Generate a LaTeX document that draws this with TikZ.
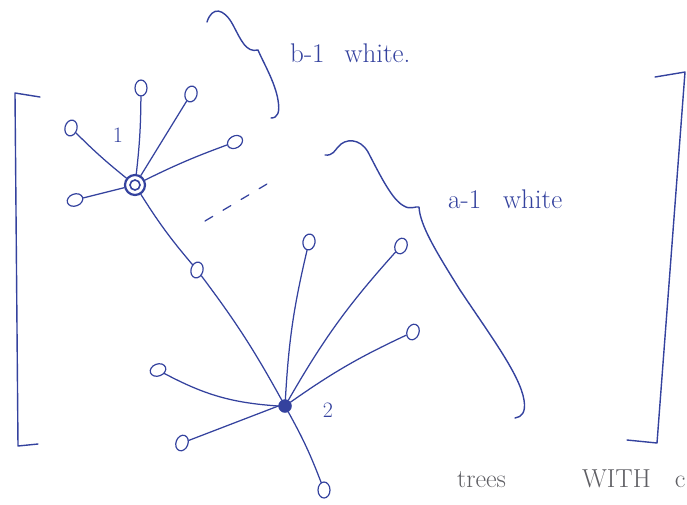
\documentclass[tikz,border=0pt]{standalone}
\usetikzlibrary{shapes.geometric}
\definecolor{ink}{RGB}{52,66,158}
\definecolor{pencil}{RGB}{95,95,100}
\begin{document}
\begin{tikzpicture}[x=1pt,y=-1pt,
  edge/.style={draw=ink, line width=1.25pt, line cap=round},
  stroke/.style={draw=ink, line width=1.4pt, line cap=round, line join=round},
  leaf/.style={ellipse, draw=ink, line width=1.2pt, minimum width=12pt, minimum height=16pt, inner sep=0pt},
  rootA/.style={circle, draw=ink, line width=2.2pt, minimum size=20pt, inner sep=0pt},
  rootB/.style={circle, draw=ink, fill=ink, minimum size=13pt, inner sep=0pt},
  handtext/.style={text=ink, font=\fontsize{27}{30}\selectfont, inner sep=0pt, anchor=base west},
  numtext/.style={text=ink, font=\fontsize{22}{24}\selectfont, inner sep=0pt},
  penciltext/.style={text=pencil, font=\fontsize{26}{30}\selectfont, inner sep=0pt, anchor=base west}]
\useasboundingbox (0,0) rectangle (687,504);

% tree 1
\node[rootA] (r1) at (135,185) {};
\draw[ink, line width=1.6pt] (r1.center) circle (5pt);
\node[leaf, rotate=-15] (a1) at (71,128) {};
\node[leaf] (a2) at (141,88) {};
\node[leaf, rotate=-15] (a3) at (191,94) {};
\node[leaf, rotate=-60] (a4) at (235,142) {};
\node[leaf, rotate=-70] (a5) at (75,200) {};
\node[numtext] (l1) at (118,135) {1};

\draw[edge] (r1) to[bend left=3] (a1);
\draw[edge] (r1) to[bend right=3] (a2);
\draw[edge] (r1) to (a3);
\draw[edge] (r1) to[bend left=3] (a4);
\draw[edge] (r1) to (a5);

% tree 2
\node[rootB] (r2) at (285,406) {};
\node[leaf, rotate=-15] (m) at (197,270) {};
\node[leaf, rotate=-10] (b1) at (309,242) {};
\node[leaf, rotate=-20] (b2) at (401,246) {};
\node[leaf, rotate=-20] (b3) at (413,332) {};
\node[leaf, rotate=-70] (b4) at (158,370) {};
\node[leaf, rotate=-20] (b5) at (182,443) {};
\node[leaf] (b6) at (324,490) {};
\node[numtext] (l2) at (328,410) {2};

\draw[edge] (r1) to[bend right=4] (m);
\draw[edge] (m) to[bend left=4] (r2);
\draw[edge] (r2) to[bend left=5] (b1);
\draw[edge] (r2) to[bend left=6] (b2);
\draw[edge] (r2) to[bend left=5] (b3);
\draw[edge] (r2.west) to[bend left=12] (b4);
\draw[edge] (r2.west) to (b5);
\draw[edge] (r2) to[bend left=4] (b6);

% dashes between trees
\coordinate (d1) at (205,221);
\coordinate (d2) at (272,181);
\draw[edge, dash pattern=on 9pt off 12pt] (d1) -- (d2);

% braces
\draw[stroke] (207,22) .. controls (212,6) and (224,8) .. (233,25)
  .. controls (241,40) and (246,53) .. (258,50)
  .. controls (263,62) and (275,82) .. (278,100)
  .. controls (280,112) and (278,118) .. (271,118);
\draw[stroke] (325,155) .. controls (333,156) and (335,150) .. (338,147)
  .. controls (345,138) and (360,138) .. (368,152)
  .. controls (380,175) and (392,200) .. (404,206)
  .. controls (410,210) and (416,206) .. (419,207)
  .. controls (420,225) and (435,250) .. (460,290)
  .. controls (490,335) and (520,375) .. (524,400)
  .. controls (526,412) and (522,417) .. (515,418);

% brackets
\draw[stroke] (40,97) -- (15,93) -- (18,446) -- (38,444);
\draw[stroke] (655,77) -- (685,72) -- (657,443) -- (627,440);

% labels
\node[handtext] (tb) at (290,62) {b-1\hspace{20pt}white.};
\node[handtext] (ta) at (448,208) {a-1\hspace{22pt}white};
\node[penciltext] (tc) at (457,487) {trees\hspace{76pt}WITH\hspace{24pt}c};
\end{tikzpicture}
\end{document}
